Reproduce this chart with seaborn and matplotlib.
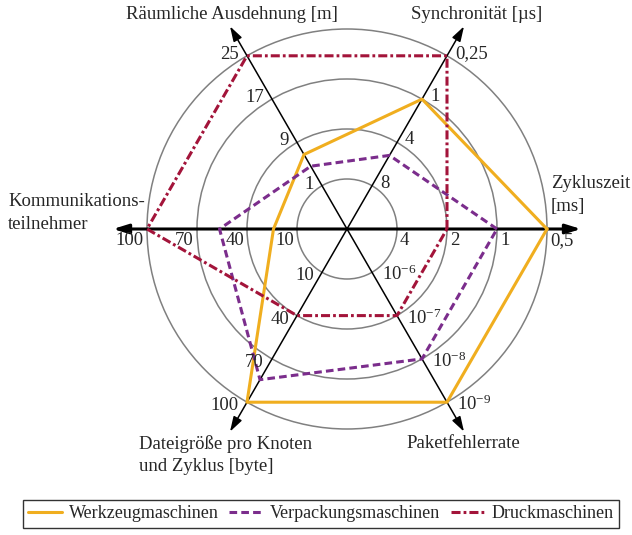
import numpy as np
import pandas as pd
import matplotlib
matplotlib.use("Agg")
from matplotlib import pyplot as plt
from matplotlib.patches import Circle, FancyArrowPatch
import seaborn as sns

# Achsen ab 0° (rechts), gegen den Uhrzeigersinn
achsen_winkel = [0, 60, 120, 180, 240, 300]
achsen_ticks = [
    ["4", "2", "1", "0,5"],
    ["8", "4", "1", "0,25"],
    ["1", "9", "17", "25"],
    ["10", "40", "70", "100"],
    ["10", "40", "70", "100"],
    [r"$\mathregular{10^{-6}}$", r"$\mathregular{10^{-7}}$",
     r"$\mathregular{10^{-8}}$", r"$\mathregular{10^{-9}}$"],
]

# Werte als Ringstufe (1..4) je Achse
maschinen = ["Werkzeugmaschinen", "Verpackungsmaschinen", "Druckmaschinen"]
werkzeug = [4, 3, 1.72, 1.47, 4, 4]
verpackung = [3, 1.7, 1.45, 2.55, 3.48, 3]
druck = [2, 4, 4, 4, 2, 2]

farben = ["#F0AE1F", "#7B2D8C", "#A3143A"]

sns.set_style("white")
plt.rcParams['font.family'] = ['Liberation Serif', 'DejaVu Serif']
plt.rcParams['mathtext.fontset'] = 'custom'
plt.rcParams['mathtext.rm'] = 'Liberation Serif'
plt.rcParams['lines.scale_dashes'] = False

fig = plt.figure(figsize=(6.32, 5.35), dpi=100)
ax = fig.add_axes([0, 0, 1, 1])
ax.set_xlim(-6.94, 5.70)
ax.set_ylim(-6.12, 4.58)
ax.axis('off')

fs = 13.5

# Ringe
for r in range(1, 5):
    ax.add_patch(Circle((0, 0), r, fill=False, ec="#808080", lw=1.1, zorder=1))

# Achsen mit Pfeilen an beiden Enden
spitze = 4.68
for w in [0, 60, 120]:
    a = np.deg2rad(w)
    p1 = (spitze * np.cos(a), spitze * np.sin(a))
    p2 = (-p1[0], -p1[1])
    lw = 2.2 if w == 0 else 1.1
    ax.add_patch(FancyArrowPatch(p2, p1, arrowstyle='<|-|>,head_length=0.9,head_width=0.28',
                                 mutation_scale=10, color='black', lw=lw, zorder=2,
                                 shrinkA=0, shrinkB=0))

# Tick-Beschriftungen (Versatz in Pixel, bezogen auf die Grundlinie)
offsets = {0: (3, -16, 'left'), 60: (8, -2, 'left'), 120: (-8, -3, 'right'),
           180: (-3, -16, 'right'), 240: (-8, -8, 'right'), 300: (10, -8, 'left')}
for w, labels in zip(achsen_winkel, achsen_ticks):
    a = np.deg2rad(w)
    dx, dy, ha = offsets[w]
    for k, lab in enumerate(labels, start=1):
        ax.annotate(lab, (k * np.cos(a), k * np.sin(a)), xytext=(dx * 0.72, dy * 0.72),
                    textcoords='offset points', ha=ha, va='baseline', fontsize=fs, zorder=6)


def px(x, y):
    return (x - 347) / 50, (229 - y) / 50


# Achsentitel
ax.text(*px(232, 15), "Räumliche Ausdehnung [m]", ha='center', va='center', fontsize=fs)
ax.text(*px(477, 15), "Synchronität [µs]", ha='center', va='center', fontsize=fs)
ax.text(*px(551, 195), "Zykluszeit\n[ms]", ha='left', va='center', fontsize=fs, linespacing=1.42)
ax.text(*px(8, 213), "Kommunikations-\nteilnehmer", ha='left', va='center', fontsize=fs,
        linespacing=1.42)
ax.text(*px(139, 455), "Dateigröße pro Knoten\nund Zyklus [byte]", ha='left', va='center',
        fontsize=fs, linespacing=1.42)
ax.text(*px(463, 443), "Paketfehlerrate", ha='center', va='center', fontsize=fs)

# Polygone
rows = []
for name, werte in zip(maschinen, [werkzeug, verpackung, druck]):
    for i in list(range(6)) + [0]:
        a = np.deg2rad(achsen_winkel[i])
        rows.append({'Maschine': name, 'x': werte[i] * np.cos(a), 'y': werte[i] * np.sin(a)})
df = pd.DataFrame(rows)

stile = [None, (0, (5.5, 3)), (0, (6.5, 2.2, 2, 2.2))]
handles = []
for j, name in enumerate(maschinen):
    sub = df[df['Maschine'] == name]
    sns.lineplot(data=sub, x='x', y='y', sort=False, estimator=None, color=farben[j],
                 lw=2.2, ax=ax, zorder=3 + j, label=name)
    line = ax.lines[-1]
    if stile[j] is not None:
        line.set_linestyle(stile[j])
    handles.append(line)

ax.legend(handles=handles, labels=maschinen, loc='center', bbox_to_anchor=(0.508, 0.04),
          bbox_transform=fig.transFigure, ncol=3, frameon=True, fancybox=False,
          edgecolor='black', fontsize=13, handlelength=1.9, handletextpad=0.35,
          columnspacing=0.6, borderpad=0.3, borderaxespad=0)
ax.get_legend().get_frame().set_linewidth(1.0)

plt.savefig("out.png", dpi=100)
